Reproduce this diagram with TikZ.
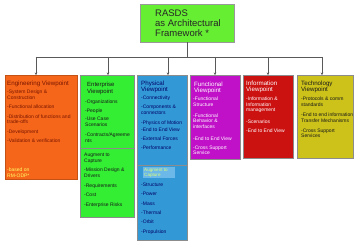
\documentclass[tikz,border=0pt]{standalone}
\usepackage{fontspec}
\setmainfont{Liberation Sans}
\usetikzlibrary{arrows.meta}
\definecolor{cTitle}{HTML}{66EE33}
\definecolor{cOrange}{HTML}{F5661A}
\definecolor{cGreen}{HTML}{33EE33}
\definecolor{cBlue}{HTML}{3399D6}
\definecolor{cBlueHL}{HTML}{6CB8E8}
\definecolor{cPurple}{HTML}{C010C8}
\definecolor{cRed}{HTML}{CC1111}
\definecolor{cOlive}{HTML}{CCC21A}
\definecolor{tMaroon}{HTML}{7A1500}
\definecolor{tYellow}{HTML}{FFFF66}
\definecolor{tNavy}{HTML}{000066}
\definecolor{tLime}{HTML}{DDFF77}
\begin{document}
\begin{tikzpicture}[x=1pt,y=-1pt,
  box/.style={draw=black!45, line width=0.4pt, inner sep=0pt, outer sep=0pt, anchor=north west},
  hdr/.style={anchor=north west, inner sep=0pt, align=left, font=\fontsize{6.2}{6.5}\selectfont},
  itm/.style={anchor=north west, inner sep=0pt, align=left, font=\fontsize{5}{5.5}\selectfont},
  ln/.style={draw=black!65, line width=0.6pt},
  arr/.style={ln, -{Stealth[length=2.5pt,width=2.6pt]}}]
\useasboundingbox (0,0) rectangle (360,245);

% title
\node[box, draw=black!40, fill=cTitle, minimum width=94pt, minimum height=38pt] (top) at (140,4) {};
\node[anchor=north west, inner sep=0pt, align=left, text=black!85, font=\fontsize{9.5}{10}\selectfont] (topT) at (155,9.3) {RASDS\\as Architectural\\Framework *};

% boxes
\node[box, draw=cOrange!80!black, fill=cOrange, minimum width=72pt, minimum height=104pt] (eng) at (5,75) {};
\node[box, fill=cGreen, minimum width=54pt, minimum height=73pt] (entU) at (80,75) {};
\node[box, fill=cGreen, minimum width=54pt, minimum height=69pt] (entL) at (80,148) {};
\node[box, fill=cBlue, minimum width=50pt, minimum height=90pt] (phyU) at (137,75) {};
\node[box, fill=cBlue, minimum width=50pt, minimum height=75pt] (phyL) at (137,165) {};
\node[box, fill=cPurple, minimum width=50pt, minimum height=84pt] (fun) at (190,75) {};
\node[box, fill=cRed, minimum width=50pt, minimum height=83pt] (inf) at (243,75) {};
\node[box, fill=cOlive, minimum width=56pt, minimum height=83pt] (tec) at (297,75) {};

% connectors
\coordinate (busL) at (36,57);
\coordinate (busR) at (322,57);
\draw[ln] (top.south) -- (top.south |- busL);
\draw[ln] (busL) -- (busR);
\draw[arr] ([xshift=-5pt]eng.north |- busL) -- ([xshift=-5pt]eng.north);
\draw[arr] ([xshift=1pt]entU.north |- busL) -- ([xshift=1pt]entU.north);
\draw[arr] ([xshift=6pt]phyU.north |- busL) -- ([xshift=6pt]phyU.north);
\draw[arr] (fun.north |- busL) -- (fun.north);
\draw[arr] (inf.north |- busL) -- (inf.north);
\draw[arr] ([xshift=-3pt]tec.north |- busL) -- ([xshift=-3pt]tec.north);

% engineering
\node[hdr, text=tMaroon] (engH) at (7,80.5) {Engineering Viewpoint};
\node[itm, text=tMaroon] (engI) at (7,90) {-System Design \&\\Construction\\[4pt]-Functional allocation\\[4pt]-Distribution of functions and\\trade-offs\\[4pt]-Development\\[4pt]-Validation \& verification};
\node[itm, text=tYellow] (engN) at (7,168) {-based on\\RM-ODP*};

% enterprise
\node[hdr, text=black!90, font=\fontsize{6}{7}\selectfont] (entH) at (87,81.5) {Enterprise\\Viewpoint};
\node[itm, text=black!90] (entI) at (85,100) {-Organizations\\[3pt]-People\\[3pt]-Use Case\\Scenarios\\[5pt]-Contracts/Agreeme\\nts};
\node[itm, text=black!90] (entA) at (84,153) {Augment to\\Capture};
\node[itm, text=black!90] (entJ) at (84,168) {-Mission Design \&\\Drivers\\[5pt]-Requirements\\[3.5pt]-Cost\\[4.5pt]-Enterprise Risks};

% physical
\node[hdr, text=tNavy] (phyH) at (141,80.5) {Physical\\Viewpoint};
\node[itm, text=tNavy] (phyI) at (141,96) {-Connectivity\\[3.5pt]-Components \&\\connectors\\[4.5pt]-Physics of Motion\\[2pt]-End to End View\\[3.5pt]-External Forces\\[3pt]-Performance};
\node[box, draw=none, fill=cBlueHL, minimum width=32pt, minimum height=11pt] (phyHL) at (143,167) {};
\node[anchor=north west, inner sep=0pt, align=left, text=tLime, font=\fontsize{4.6}{5}\selectfont] (phyA) at (144,168) {Augment to\\Capture};
\node[itm, text=tNavy] (phyJ) at (141,183) {-Structure\\[3.8pt]-Power\\[3.8pt]-Mass\\[3.8pt]-Thermal\\[3.8pt]-Orbit\\[3.8pt]-Propulsion};

% functional
\node[hdr, text=white] (funH) at (194,81.5) {Functional\\Viewpoint};
\node[itm, text=white] (funI) at (193,97) {-Functional\\Structure\\[5.5pt]-Functional\\Behavior \&\\interfaces\\[6.5pt]-End to End View\\[3.5pt]-Cross Support\\Service};

% information
\node[hdr, text=white] (infH) at (246,80.5) {Information\\Viewpoint};
\node[itm, text=white] (infI) at (246,97) {-Information \&\\Information\\management\\[6.5pt]-Scenarios\\[3.5pt]-End to End View};

% technology
\node[hdr, text=black!90] (tecH) at (301,80.5) {Technology\\Viewpoint};
\node[itm, text=black!90] (tecI) at (301,97) {-Protocols \& comm\\standards\\[5pt]-End to end information\\Transfer Mechanisms\\[4.5pt]-Cross Support\\Services};
\end{tikzpicture}
\end{document}
